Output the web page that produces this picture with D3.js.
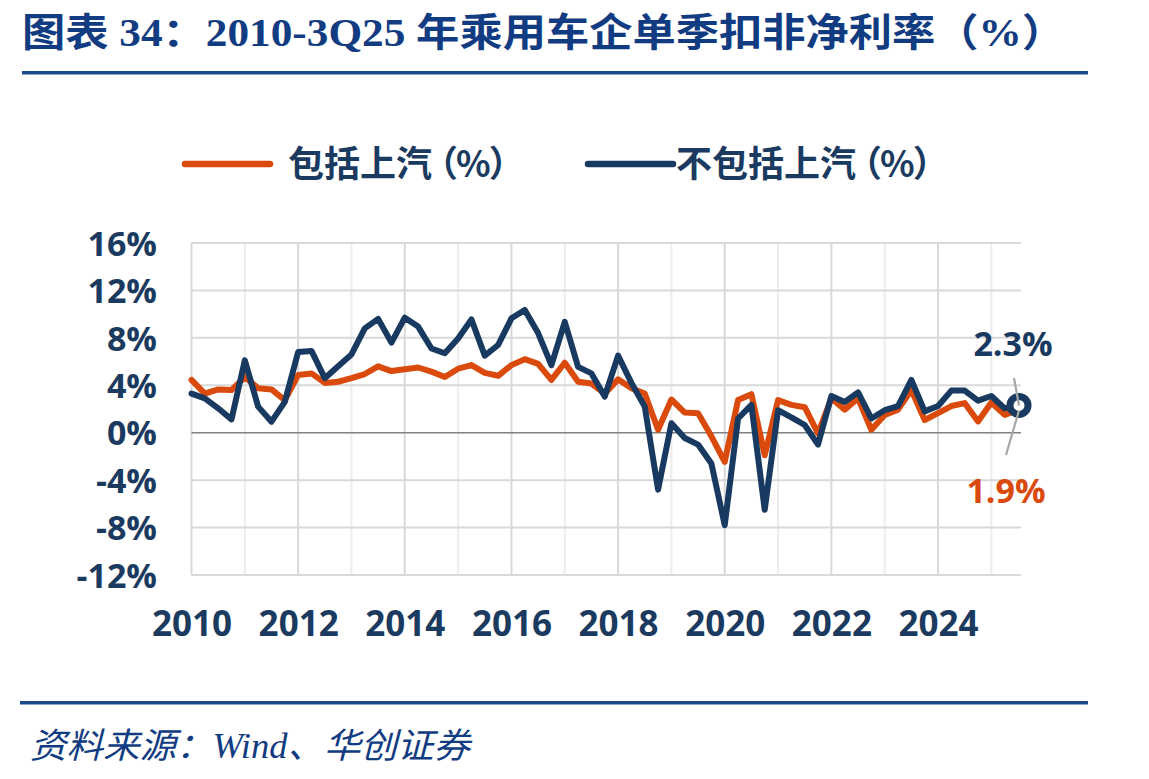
<!DOCTYPE html>
<html><head><meta charset="utf-8">
<script src="https://cdn.jsdelivr.net/npm/d3@7"></script>
<style>
html,body{margin:0;padding:0;background:#fff;}
svg{display:block;}
</style></head>
<body><svg id="c" width="1149" height="779"></svg>
<script>
const quarters = ["2010Q1","2010Q2","2010Q3","2010Q4","2011Q1","2011Q2","2011Q3","2011Q4",
"2012Q1","2012Q2","2012Q3","2012Q4","2013Q1","2013Q2","2013Q3","2013Q4",
"2014Q1","2014Q2","2014Q3","2014Q4","2015Q1","2015Q2","2015Q3","2015Q4",
"2016Q1","2016Q2","2016Q3","2016Q4","2017Q1","2017Q2","2017Q3","2017Q4",
"2018Q1","2018Q2","2018Q3","2018Q4","2019Q1","2019Q2","2019Q3","2019Q4",
"2020Q1","2020Q2","2020Q3","2020Q4","2021Q1","2021Q2","2021Q3","2021Q4",
"2022Q1","2022Q2","2022Q3","2022Q4","2023Q1","2023Q2","2023Q3","2023Q4",
"2024Q1","2024Q2","2024Q3","2024Q4","2025Q1","2025Q2","2025Q3"];
const inclSAIC = [4.45,3.3,3.65,3.6,4.7,3.75,3.65,2.75,4.87,5.0,4.2,4.3,4.6,4.95,5.6,5.2,
5.35,5.5,5.15,4.7,5.4,5.7,5.05,4.8,5.7,6.2,5.8,4.45,5.9,4.3,4.15,3.3,
4.5,3.75,3.3,0.25,2.8,1.7,1.65,-0.3,-2.45,2.75,3.25,-1.9,2.75,2.35,2.15,-0.05,
2.9,1.95,2.9,0.25,1.5,1.95,3.6,1.07,1.65,2.25,2.5,0.95,2.55,1.5,1.9];
const exclSAIC = [3.3,2.9,2.06,1.13,6.1,2.2,0.93,2.6,6.8,6.9,4.6,5.6,6.6,8.8,9.6,7.6,
9.7,8.95,7.1,6.7,7.95,9.55,6.5,7.4,9.65,10.35,8.4,5.7,9.35,5.55,5.0,3.05,
6.5,4.2,2.2,-4.8,0.8,-0.45,-1.0,-2.6,-7.8,1.2,2.35,-6.5,1.9,1.3,0.65,-1.0,
3.1,2.6,3.4,1.2,1.9,2.25,4.45,1.8,2.25,3.55,3.55,2.7,3.1,2.05,2.3];
const yTicks = [-12,-8,-4,0,4,8,12,16];
const xTickLabels = ["2010","2012","2014","2016","2018","2020","2022","2024"];
const seriesNames = ["包括上汽","不包括上汽"];
const seriesUnit = "（%）";
const titleText = "图表 34：2010-3Q25 年乘用车企单季扣非净利率（%）";
const sourceText = "资料来源：Wind、华创证券";
const endLabels = ["2.3%","1.9%"];

const ORANGE = "#DA4A0C", BLUE = "#193A60", TXT = "#1B3A5F", TITLE = "#123C82";
const svg = d3.select("#c");
svg.append("rect").attr("width",1149).attr("height",779).attr("fill","#fff");

const L = 191.5, R = 1021, T = 243, B = 575;
const x = d3.scalePoint().domain(quarters).range([L, 1018]);
const y = d3.scaleLinear().domain([-12,16]).range([B, T]);

// title
svg.append("text").attr("x",22).attr("y",46)
  .attr("font-family","'Liberation Serif','Noto Sans CJK SC',serif").attr("font-weight",700)
  .attr("font-size",39).attr("fill",TITLE).attr("textLength",1043).attr("lengthAdjust","spacingAndGlyphs")
  .text(titleText);
svg.append("rect").attr("x",22).attr("y",71).attr("width",1066).attr("height",3.5).attr("fill","#1A4A8A");
svg.append("rect").attr("x",20).attr("y",701).attr("width",1068).attr("height",3.5).attr("fill","#1A4A8A");
svg.append("text").attr("x",30).attr("y",758)
  .attr("font-family","'Liberation Serif','Noto Sans CJK SC',serif").attr("font-style","italic")
  .attr("font-size",35).attr("fill",TITLE).attr("textLength",440).attr("lengthAdjust","spacingAndGlyphs").text(sourceText);

// vertical grid
const yearIdx = quarters.filter(q => q.endsWith("Q1"));
svg.append("g").selectAll("line").data(yearIdx).join("line")
  .attr("x1",d=>x(d)).attr("x2",d=>x(d)).attr("y1",T).attr("y2",B)
  .attr("stroke",(d,i)=> i%2===0 ? "#D9D9D9" : "#EDEDED").attr("stroke-width",2);
// horizontal grid
svg.append("g").selectAll("line").data(yTicks.filter(v=>v!==0)).join("line")
  .attr("x1",L).attr("x2",R).attr("y1",d=>y(d)).attr("y2",d=>y(d))
  .attr("stroke","#D9D9D9").attr("stroke-width",2);
svg.append("line").attr("x1",L).attr("x2",R).attr("y1",y(0)).attr("y2",y(0))
  .attr("stroke","#808080").attr("stroke-width",1.5);

// axes
const yAxis = d3.axisLeft(y).tickValues(yTicks).tickSize(0).tickPadding(0).tickFormat(d=>d+"%");
const gy = svg.append("g").attr("transform",`translate(157,0)`).call(yAxis);
gy.select(".domain").remove();
gy.selectAll("text").attr("font-family","'Open Sans',sans-serif").attr("font-weight",700)
  .attr("font-size",34).attr("fill",TXT).attr("dy","0.36em");

const xAxis = d3.axisBottom(x).tickValues(xTickLabels.map(s=>s+"Q1")).tickSize(0).tickPadding(0).tickFormat(d=>d.slice(0,4));
const gx = svg.append("g").attr("transform",`translate(0,610)`).call(xAxis);
gx.select(".domain").remove();
gx.selectAll("text").attr("font-family","'Open Sans',sans-serif").attr("font-weight",700)
  .attr("font-size",35).attr("fill",TXT).attr("dy","0.73em");

// lines
const line = d3.line().x((d,i)=>x(quarters[i])).y(d=>y(d)).curve(d3.curveLinear);
svg.append("path").datum(inclSAIC).attr("d",line).attr("fill","none").attr("stroke",ORANGE)
  .attr("stroke-width",6).attr("stroke-linejoin","round").attr("stroke-linecap","round");
svg.append("path").datum(exclSAIC).attr("d",line).attr("fill","none").attr("stroke",BLUE)
  .attr("stroke-width",6).attr("stroke-linejoin","round").attr("stroke-linecap","round");

// end marker
const last = quarters.length-1;
const cx = x(quarters[last]) + 1, cyv = y(exclSAIC[last]);
svg.append("circle").attr("cx",cx).attr("cy",cyv).attr("r",9).attr("fill","#fff").attr("stroke",BLUE).attr("stroke-width",7);
svg.append("line").attr("x1",1014).attr("y1",378).attr("x2",cx).attr("y2",cyv).attr("stroke","#A6A6A6").attr("stroke-width",2.2);
svg.append("line").attr("x1",cx).attr("y1",cyv+5).attr("x2",1006).attr("y2",455).attr("stroke","#A6A6A6").attr("stroke-width",2.2);
svg.append("text").attr("x",1013).attr("y",356).attr("text-anchor","middle")
  .attr("font-family","'Open Sans',sans-serif").attr("font-weight",700).attr("font-size",34).attr("fill",BLUE).text(endLabels[0]);
svg.append("text").attr("x",1006).attr("y",503).attr("text-anchor","middle")
  .attr("font-family","'Open Sans',sans-serif").attr("font-weight",700).attr("font-size",34).attr("fill",ORANGE).text(endLabels[1]);

// legend
const legendItems = [
  {c:ORANGE, x1:185, x2:270, tx:288, name:seriesNames[0]},
  {c:BLUE,   x1:588, x2:673, tx:676, name:seriesNames[1]}
];
const lg = svg.append("g");
legendItems.forEach(it=>{
  lg.append("line").attr("x1",it.x1).attr("x2",it.x2).attr("y1",164).attr("y2",164)
    .attr("stroke",it.c).attr("stroke-width",6.5).attr("stroke-linecap","round");
  const t = lg.append("text").attr("x",it.tx).attr("y",164).attr("dy","0.36em")
    .attr("font-family","'Noto Sans CJK SC',sans-serif").attr("font-weight",700)
    .attr("font-size",36).attr("fill",TXT);
  t.append("tspan").text(it.name);
  t.append("tspan").attr("dx",-10).attr("letter-spacing","-2px").text(seriesUnit);
});
</script></body></html>
